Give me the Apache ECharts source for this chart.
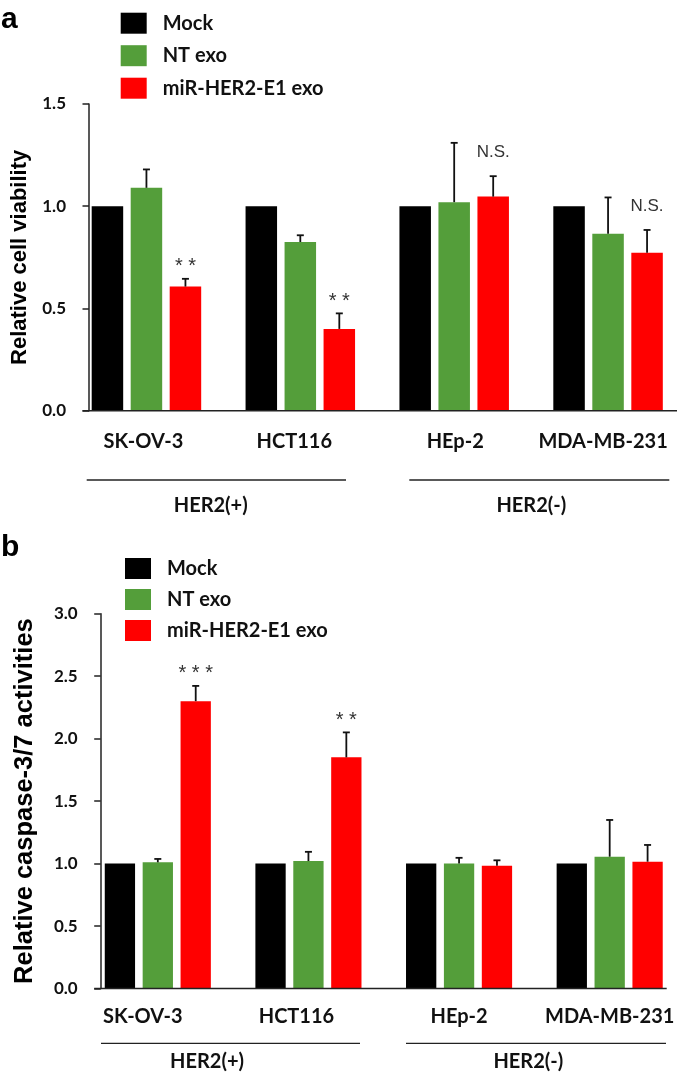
<!DOCTYPE html>
<html><head><meta charset="utf-8">
<script src="https://cdn.jsdelivr.net/npm/echarts@6/dist/echarts.min.js"></script>
<style>html,body{margin:0;padding:0;background:#fff}#c{width:685px;height:1077px}</style>
</head><body><div id="c"></div>
<script>
// ---------- data ----------
const categories = ['SK-OV-3', 'HCT116', 'HEp-2', 'MDA-MB-231'];
const seriesNames = ['Mock', 'NT exo', 'miR-HER2-E1 exo'];
const groupNames = ['HER2(+)', 'HER2(-)'];

// panel a: relative cell viability
const viabilityTicks = [0, 0.5, 1.0, 1.5];
const viabilityMock = [1.0, 1.0, 1.0, 1.0];
const viabilityNT = [1.09, 0.825, 1.02, 0.865];
const viabilityMiR = [0.607, 0.40, 1.047, 0.772];
const viabilityMockErr = [0, 0, 0, 0];
const viabilityNTErr = [0.09, 0.033, 0.29, 0.178];
const viabilityMiRErr = [0.038, 0.076, 0.10, 0.112];
const viabilitySig = ['* *', '* *', 'N.S.', 'N.S.'];

// panel b: relative caspase-3/7 activities
const caspaseTicks = [0, 0.5, 1.0, 1.5, 2.0, 2.5, 3.0];
const caspaseMock = [1.0, 1.0, 1.0, 1.0];
const caspaseNT = [1.01, 1.02, 1.0, 1.055];
const caspaseMiR = [2.30, 1.85, 0.983, 1.015];
const caspaseMockErr = [0, 0, 0, 0];
const caspaseNTErr = [0.027, 0.074, 0.046, 0.294];
const caspaseMiRErr = [0.122, 0.20, 0.043, 0.134];
const caspaseSig = ['* * *', '* *', '', ''];

// ---------- styles / layout ----------
const COLORS = ['#000000', '#549E3A', '#FF0000'];
const CAL = 'Lato';
const ARI = '"Liberation Sans", Arial, sans-serif';
const INK = '#111111';
const AXC = '#222222';

const panels = [
  {
    tag: 'a', tagY: 20,
    title: 'Relative cell viability', titleSize: 22, nameGap: 56,
    ticks: viabilityTicks,
    values: [viabilityMock, viabilityNT, viabilityMiR],
    errs: [viabilityMockErr, viabilityNTErr, viabilityMiRErr],
    sig: viabilitySig,
    gridLeft: 69.5, gridTop: 104, gridW: 626.8, gridH: 306.7,
    axisX: 89, axisEnd: 677,
    barW: 31.5, gap: 7.5,
    labelShift: [-3, -6, 1, -5], labelMargin: 21,
    brackets: [[86.7, 346], [409.3, 669.3]], bracketY: 480,
    groupTextX: [210.7, 531.3], groupTextY: 506,
    legendLeft: 120.7, legendTop: 12.7, legendGap: 11.5
  },
  {
    tag: 'b', tagY: 548,
    title: 'Relative caspase-3/7 activities', titleSize: 25.5, nameGap: 63,
    ticks: caspaseTicks,
    values: [caspaseMock, caspaseNT, caspaseMiR],
    errs: [caspaseMockErr, caspaseNTErr, caspaseMiRErr],
    sig: caspaseSig,
    gridLeft: 82.5, gridTop: 613.7, gridW: 603.2, gridH: 374.8,
    axisX: 100.7, axisEnd: 666.7,
    barW: 30.3, gap: 7.6,
    labelShift: [-15, -12, 0, 0], labelMargin: 18,
    brackets: [[101, 360], [406, 666]], bracketY: 1043.3,
    groupTextX: [207, 528.3], groupTextY: 1061.7,
    legendLeft: 125, legendTop: 558, legendGap: 10
  }
];

const chart = echarts.init(document.getElementById('c'), null, { renderer: 'canvas' });

const option = {
  backgroundColor: '#ffffff',
  animation: false,
  grid: [], xAxis: [], yAxis: [], series: [], legend: [], graphic: []
};

panels.forEach((p, pi) => {
  option.grid.push({ left: p.gridLeft, top: p.gridTop, width: p.gridW, height: p.gridH, containLabel: false });

  const rich = {};
  p.labelShift.forEach((d, i) => {
    rich['s' + i] = {
      fontFamily: CAL, fontWeight: 'bold', fontSize: 20, color: INK,
      padding: d < 0 ? [0, -2 * d, 0, 0] : [0, 0, 0, 2 * d]
    };
  });
  option.xAxis.push({
    gridIndex: pi, type: 'category', data: categories,
    axisLine: { show: false }, axisTick: { show: false },
    axisLabel: {
      margin: p.labelMargin, interval: 0,
      formatter: (v, i) => '{s' + i + '|' + v + '}', rich: rich
    }
  });

  const tk = p.ticks;
  option.yAxis.push({
    gridIndex: pi, type: 'value',
    min: tk[0], max: tk[tk.length - 1], interval: tk[1] - tk[0],
    offset: -(p.axisX - p.gridLeft),
    axisLine: { show: true, lineStyle: { color: AXC, width: 1.5 } },
    axisTick: { show: true, inside: false, length: 6.5, lineStyle: { color: AXC, width: 1.5 } },
    splitLine: { show: false },
    axisLabel: {
      margin: 23, formatter: v => v.toFixed(1),
      fontFamily: CAL, fontWeight: 'bold', fontSize: 17, color: INK
    },
    name: p.title, nameLocation: 'middle', nameGap: p.nameGap,
    nameTextStyle: { fontFamily: ARI, fontWeight: 'bold', fontSize: p.titleSize, color: '#000' }
  });

  seriesNames.forEach((nm, s) => {
    option.series.push({
      name: nm, type: 'bar', xAxisIndex: pi, yAxisIndex: pi,
      data: p.values[s], barWidth: p.barW, barGap: (p.gap / p.barW * 100).toFixed(2) + '%',
      itemStyle: { color: COLORS[s] }, z: 2
    });
  });

  // error bars + significance labels
  const errData = [];
  const labels = [];
  seriesNames.forEach((nm, s) => {
    categories.forEach((c, i) => {
      errData.push([i, s, p.values[s][i], p.errs[s][i]]);
      labels.push(s === 2 ? p.sig[i] : '');
    });
  });
  option.series.push({
    type: 'custom', xAxisIndex: pi, yAxisIndex: pi, z: 5, silent: true,
    data: errData,
    renderItem: (params, api) => {
      const i = api.value(0), s = api.value(1), v = api.value(2), e = api.value(3);
      const base = api.coord([i, v]);
      const top = api.coord([i, v + e]);
      const x = base[0] + (s - 1) * (p.barW + p.gap);
      const ch = [];
      const ls = { stroke: '#111', lineWidth: 1.8 };
      if (e > 0) {
        ch.push({ type: 'line', shape: { x1: x, y1: base[1], x2: x, y2: top[1] }, style: ls });
        ch.push({ type: 'line', shape: { x1: x - 3.5, y1: top[1], x2: x + 3.5, y2: top[1] }, style: ls });
      }
      const t = labels[params.dataIndex];
      if (t) {
        const isStar = t.indexOf('*') >= 0;
        ch.push({
          type: 'text',
          style: {
            text: t, x: x, y: top[1] - (isStar ? 12 : 24),
            align: 'center', verticalAlign: 'middle',
            fontFamily: ARI, fontSize: isStar ? 20 : 17, fill: '#333'
          }
        });
      }
      return { type: 'group', children: ch };
    }
  });

  option.legend.push({
    orient: 'vertical', left: p.legendLeft, top: p.legendTop, padding: 0,
    itemWidth: 26, itemHeight: 21, itemGap: p.legendGap, icon: 'rect',
    selectedMode: false, data: seriesNames,
    textStyle: { fontFamily: CAL, fontWeight: 'bold', fontSize: 20, color: INK, lineHeight: 21, padding: [0, 0, 0, 11] }
  });

  // axis baseline, brackets, group text, panel tag
  const y0 = p.gridTop + p.gridH;
  option.graphic.push({
    type: 'line', shape: { x1: p.axisX - 6.5, y1: y0, x2: p.axisEnd, y2: y0 },
    style: { stroke: AXC, lineWidth: 1.5 }, z: 10
  });
  p.brackets.forEach((b, k) => {
    option.graphic.push({
      type: 'line', shape: { x1: b[0], y1: p.bracketY, x2: b[1], y2: p.bracketY },
      style: { stroke: AXC, lineWidth: 1.3 }
    });
    option.graphic.push({
      type: 'text', x: p.groupTextX[k], y: p.groupTextY,
      style: { text: groupNames[k], align: 'center', verticalAlign: 'middle',
        fontFamily: CAL, fontWeight: 'bold', fontSize: 20, fill: INK }
    });
  });
  option.graphic.push({
    type: 'text', x: 1, y: p.tagY,
    style: { text: p.tag, align: 'left', verticalAlign: 'middle',
      fontFamily: ARI, fontWeight: 'bold', fontSize: 30, fill: '#000' }
  });
});

chart.setOption(option);
</script>
</body></html>
